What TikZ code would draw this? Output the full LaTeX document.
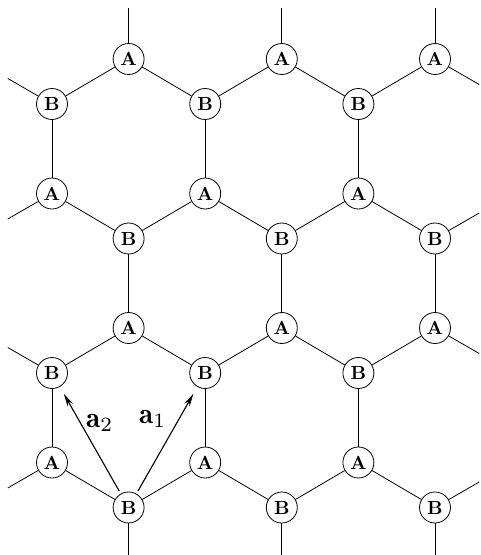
\documentclass[tikz,border=0pt]{standalone}
\usepackage{fontspec}
\usetikzlibrary{arrows.meta}
\newcommand{\sitelbl}[1]{\scalebox{1.9}{\bfseries #1}}
\newcommand{\veclbl}[1]{\scalebox{2.9}{$\mathbf{a}_{#1}$}}
\begin{document}
\begin{tikzpicture}[x=1pt,y=-1pt,
  site/.style={circle,draw,line width=0.8pt,minimum size=31pt,inner sep=0pt,fill=white},
  bond/.style={line width=0.8pt},
  vec/.style={line width=1.1pt,-{Stealth[length=13pt,width=6pt]},shorten <=3pt,shorten >=8pt},
  lab/.style={inner sep=0pt,anchor=base west}]
\useasboundingbox (0,0) rectangle (481,555);
\clip (0,0) rectangle (481,555);
% sites
\node[site] (A01) at (128.6,59) {\sitelbl{A}};
\node[site] (A03) at (281.8,59) {\sitelbl{A}};
\node[site] (A05) at (435,59) {\sitelbl{A}};
\node[site] (B00) at (52,104) {\sitelbl{B}};
\node[site] (B02) at (205.2,104) {\sitelbl{B}};
\node[site] (B04) at (358.4,104) {\sitelbl{B}};
\node[site] (A10) at (52,193.5) {\sitelbl{A}};
\node[site] (A12) at (205.2,193.5) {\sitelbl{A}};
\node[site] (A14) at (358.4,193.5) {\sitelbl{A}};
\node[site] (B11) at (128.6,238.5) {\sitelbl{B}};
\node[site] (B13) at (281.8,238.5) {\sitelbl{B}};
\node[site] (B15) at (435,238.5) {\sitelbl{B}};
\node[site] (A21) at (128.6,328) {\sitelbl{A}};
\node[site] (A23) at (281.8,328) {\sitelbl{A}};
\node[site] (A25) at (435,328) {\sitelbl{A}};
\node[site] (B20) at (52,373) {\sitelbl{B}};
\node[site] (B22) at (205.2,373) {\sitelbl{B}};
\node[site] (B24) at (358.4,373) {\sitelbl{B}};
\node[site] (A30) at (52,462.5) {\sitelbl{A}};
\node[site] (A32) at (205.2,462.5) {\sitelbl{A}};
\node[site] (A34) at (358.4,462.5) {\sitelbl{A}};
\node[site] (B31) at (128.6,507.5) {\sitelbl{B}};
\node[site] (B33) at (281.8,507.5) {\sitelbl{B}};
\node[site] (B35) at (435,507.5) {\sitelbl{B}};
% free ends of the boundary bonds
\path (A01) ++(0,-51) coordinate (tA01);
\path (A03) ++(0,-51) coordinate (tA03);
\path (A05) ++(0,-51) coordinate (tA05);
\path (A05) ++(44.2,25.5) coordinate (rA05);
\path (A25) ++(44.2,25.5) coordinate (rA25);
\path (A10) ++(-44.2,25.5) coordinate (lA10);
\path (A30) ++(-44.2,25.5) coordinate (lA30);
\path (B00) ++(-44.2,-25.5) coordinate (lB00);
\path (B20) ++(-44.2,-25.5) coordinate (lB20);
\path (B15) ++(44.2,-25.5) coordinate (rB15);
\path (B35) ++(44.2,-25.5) coordinate (rB35);
\path (B31) ++(0,51) coordinate (dB31);
\path (B33) ++(0,51) coordinate (dB33);
\path (B35) ++(0,51) coordinate (dB35);
% boundary bonds
\foreach \n/\e in {A01/tA01,A03/tA03,A05/tA05,A05/rA05,A25/rA25,A10/lA10,A30/lA30,
  B00/lB00,B20/lB20,B15/rB15,B35/rB35,B31/dB31,B33/dB33,B35/dB35}
  \draw[bond] (\n) -- (\e);
% inner bonds
\foreach \p/\q in {A01/B00,A01/B02,A03/B02,A03/B04,A05/B04,
  A10/B00,A10/B11,A12/B02,A12/B11,A12/B13,A14/B04,A14/B13,A14/B15,
  A21/B11,A21/B20,A21/B22,A23/B13,A23/B22,A23/B24,A25/B15,A25/B24,
  A30/B20,A30/B31,A32/B22,A32/B31,A32/B33,A34/B24,A34/B33,A34/B35}
  \draw[bond] (\p) -- (\q);
% lattice vectors
\draw[vec] (B31) -- (B20);
\draw[vec] (B31) -- (B22);
\node[lab] (la2) at (86,427) {\veclbl{2}};
\node[lab] (la1) at (139,423) {\veclbl{1}};
\end{tikzpicture}
\end{document}
